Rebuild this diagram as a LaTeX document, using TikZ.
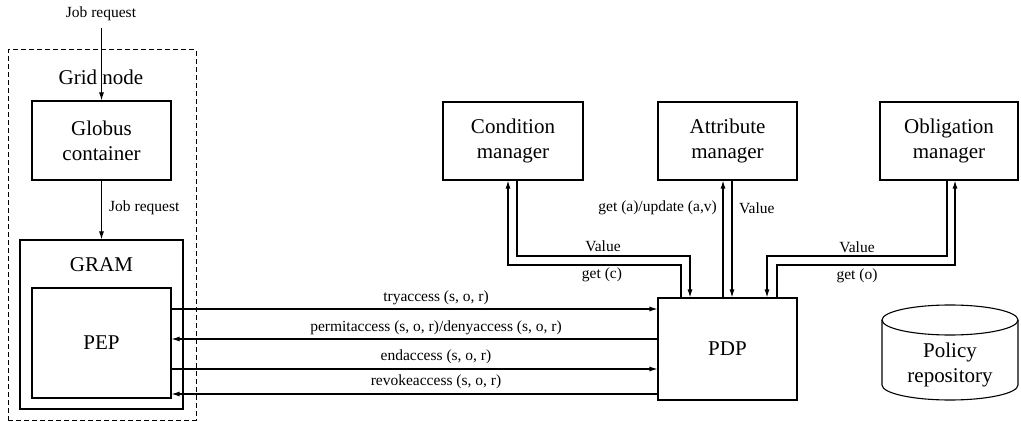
\documentclass[tikz,border=0pt]{standalone}
\usepackage{fontspec}
\setmainfont{Liberation Serif}
\newfontfamily\serf{Liberation Serif}
\usetikzlibrary{arrows.meta}
\begin{document}
\begin{tikzpicture}[x=1pt,y=1pt,
  box/.style={draw, line width=1.1pt, inner sep=0pt, align=center, font=\serf\fontsize{21}{25}\selectfont},
  big/.style={inner sep=0pt, align=center, font=\serf\fontsize{21}{25}\selectfont},
  lbl/.style={inner sep=0pt, font=\serf\fontsize{15.5}{18}\selectfont},
  arr/.style={line width=1.1pt, -{Latex[length=8pt,width=5pt]}},
  ln/.style={line width=1.1pt},
]
\useasboundingbox (0,0) rectangle (1021,-422);

% grid node (dashed)
\node[draw, dash pattern=on 5pt off 3pt, line width=1pt, minimum width=188pt, minimum height=370pt, inner sep=0pt] (grid) at (102,-235) {};
\node[big] (gridlbl) at (101,-77) {Grid node};
\node[lbl] (jobtop) at (101,-14) {Job request};

\node[box, minimum width=139pt, minimum height=79pt] (globus) at (101.5,-140.5) {Globus\\container};
\node[box, minimum width=163pt, minimum height=169pt] (gram) at (101.5,-324.5) {};
\node[big] (gramlbl) at (101.5,-265) {GRAM};
\node[box, minimum width=139pt, minimum height=110pt] (pep) at (101.5,-343) {PEP};

\node[box, minimum width=139pt, minimum height=102pt] (pdp) at (727.5,-349) {PDP};
\node[box, minimum width=140pt, minimum height=78pt] (cond) at (513,-141) {Condition\\manager};
\node[box, minimum width=139pt, minimum height=78pt] (attr) at (727.5,-141) {Attribute\\manager};
\node[box, minimum width=138pt, minimum height=78pt] (obl) at (949,-141) {Obligation\\manager};

% policy repository cylinder
\coordinate (cylc) at (950,-320);
\draw[ln] (cylc) ellipse [x radius=68, y radius=15];
\draw[ln] (882,-320) -- (882,-385) arc[start angle=180, end angle=360, x radius=68, y radius=15] -- (1018,-320);
\node[big] (repo) at (950,-365) {Policy\\repository};

% job request arrows
\coordinate (jobstart) at (101.5,-28);
\draw[arr] (jobstart) -- (globus.north);
\draw[arr] (globus.south) -- (gram.north);
\node[lbl, anchor=west] (job2) at (109,-208) {Job request};

% PEP <-> PDP
\coordinate (y1) at (0,-309);
\coordinate (y2) at (0,-339);
\coordinate (y3) at (0,-369);
\coordinate (y4) at (0,-394);
\draw[arr] (pep.east |- y1) -- (pdp.west |- y1);
\draw[arr] (pdp.west |- y2) -- (pep.east |- y2);
\draw[arr] (pep.east |- y3) -- (pdp.west |- y3);
\draw[arr] (pdp.west |- y4) -- (pep.east |- y4);
\node[lbl] (l1) at (436,-298) {tryaccess (s, o, r)};
\node[lbl] (l2) at (436,-328) {permitaccess (s, o, r)/denyaccess (s, o, r)};
\node[lbl] (l3) at (436,-357) {endaccess (s, o, r)};
\node[lbl] (l4) at (436,-382) {revokeaccess (s, o, r)};

% condition manager
\coordinate (cR1) at (681,-265);
\coordinate (cL1) at (508,-265);
\coordinate (cL2) at (517,-256);
\coordinate (cR2) at (690,-256);
\draw[arr] (pdp.north -| cR1) -- (cR1) -- (cL1) -- (cond.south -| cL1);
\draw[arr] (cond.south -| cL2) -- (cL2) -- (cR2) -- (pdp.north -| cR2);
\node[lbl] (cv) at (603,-246) {Value};
\node[lbl] (cg) at (602,-275) {get (c)};

% attribute manager
\coordinate (a1) at (723,0);
\coordinate (a2) at (732,0);
\draw[arr] (pdp.north -| a1) -- (attr.south -| a1);
\draw[arr] (attr.south -| a2) -- (pdp.north -| a2);
\node[lbl, anchor=east] (ag) at (717,-208) {get (a)/update (a,v)};
\node[lbl, anchor=west] (av) at (739,-208) {Value};

% obligation manager
\coordinate (oL1) at (777,-265);
\coordinate (oR1) at (955,-265);
\coordinate (oR2) at (947,-256);
\coordinate (oL2) at (767,-256);
\draw[arr] (pdp.north -| oL1) -- (oL1) -- (oR1) -- (obl.south -| oR1);
\draw[arr] (obl.south -| oR2) -- (oR2) -- (oL2) -- (pdp.north -| oL2);
\node[lbl] (ov) at (857,-247) {Value};
\node[lbl] (og) at (857,-276) {get (o)};
\end{tikzpicture}
\end{document}
